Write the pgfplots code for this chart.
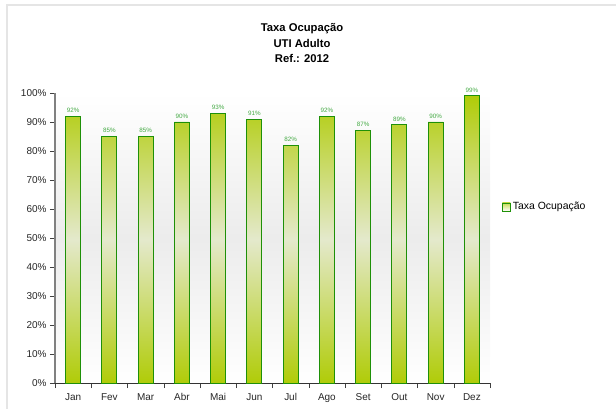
\documentclass[border=0pt]{standalone}
\usepackage{fontspec}
\setmainfont{Liberation Sans}
\usepackage{pgfplots}
\pgfplotsset{compat=1.18}
\definecolor{barA}{HTML}{B0CC08}
\definecolor{barM}{HTML}{E4E9CC}
\definecolor{barEdge}{HTML}{1E9008}
\definecolor{valc}{HTML}{44AA44}
\begin{document}
\begin{tikzpicture}[x=1bp,y=1bp]
\useasboundingbox (-55,-26) rectangle (561,383);
\draw[line width=2bp, gray!20] (-48,-26) -- (-48,378) -- (561,378);
\shade[top color=white, bottom color=white, middle color=gray!15] (0,0) rectangle (435,290);
\node[align=center, font=\bfseries\fontsize{11.3}{15.5}\selectfont] at (247,340) {Taxa Ocupação\\UTI Adulto\\Ref.: 2012};
\begin{axis}[
  width=435bp, height=290bp, scale only axis,
  at={(0,0)}, anchor=south west,
  xmin=-0.5, xmax=11.5, ymin=0, ymax=100,
  axis x line=bottom, axis y line=left,
  x axis line style={-, draw=black!80},
  y axis line style={-, draw=gray, line width=1.5bp},
  ytick={0,10,...,100},
  yticklabel={\pgfmathprintnumber{\tick}\%},
  xtick={0,...,11},
  xticklabels={Jan,Fev,Mar,Abr,Mai,Jun,Jul,Ago,Set,Out,Nov,Dez},
  major x tick style={draw=none},
  minor xtick={-0.5,0.5,...,11.5},
  tick align=outside, major tick length=5bp, minor tick length=5bp,
  tick style={draw=black!75},
  tick label style={font=\fontsize{10}{12}\selectfont, color=black!85},
  xticklabel style={yshift=-2bp},
  /pgf/number format/assume math mode=true,
  ybar, bar width=15bp,
  nodes near coords={\pgfmathprintnumber{\pgfplotspointmeta}\%},
  every node near coord/.append style={font=\fontsize{6.3}{7}\selectfont, color=valc},
  legend style={at={(1.02,0.607)}, anchor=west, draw=none, fill=none, font=\fontsize{10.5}{12}\selectfont},
  legend image code/.code={\draw[draw=barEdge, line width=0.9bp, top color=barA!70, bottom color=white] (0bp,-4bp) rectangle (8bp,4bp);},
]
\addplot[draw=barEdge, line width=0.8bp, top color=barA, bottom color=barA, middle color=barM]
  coordinates {(0,92) (1,85) (2,85) (3,90) (4,93) (5,91) (6,82) (7,92) (8,87) (9,89) (10,90) (11,99)};
\addlegendentry{Taxa Ocupação}
\end{axis}
\end{tikzpicture}
\end{document}
